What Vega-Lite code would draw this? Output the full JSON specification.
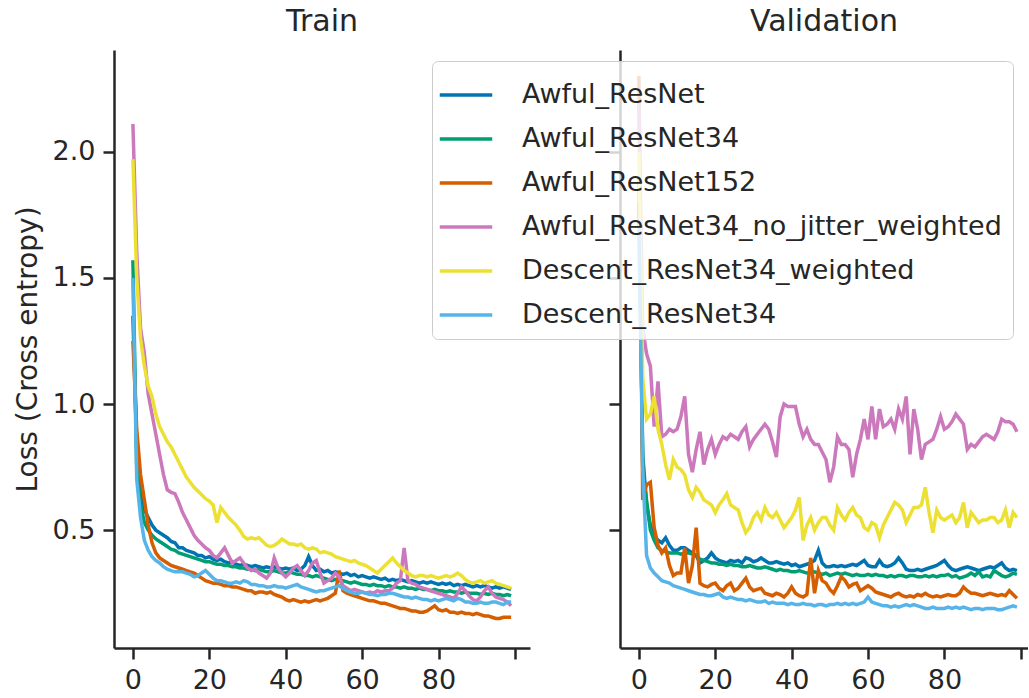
{
"$schema": "https://vega.github.io/schema/vega-lite/v6.json",
"background": "white",
"padding": {"left": 14, "top": 7, "right": 0, "bottom": 0},
"datasets": {
"names": [
{"k":"a","model":"Awful_ResNet"},{"k":"b","model":"Awful_ResNet34"},{"k":"c","model":"Awful_ResNet152"},
{"k":"d","model":"Awful_ResNet34_no_jitter_weighted"},{"k":"e","model":"Descent_ResNet34_weighted"},{"k":"f","model":"Descent_ResNet34"}],
"train": [
{"ep":0,"a":1.35,"b":1.57,"c":1.25,"d":2.11,"e":1.97,"f":1.5},
{"ep":1,"a":0.82,"b":0.75,"c":0.9,"d":1.6,"e":1.5,"f":0.7},
{"ep":2,"a":0.64,"b":0.6,"c":0.72,"d":1.3,"e":1.26,"f":0.55},
{"ep":3,"a":0.58,"b":0.53,"c":0.62,"d":1.2,"e":1.15,"f":0.46},
{"ep":4,"a":0.55,"b":0.5,"c":0.52,"d":1.04,"e":1.07,"f":0.42},
{"ep":5,"a":0.52,"b":0.48,"c":0.45,"d":0.96,"e":1.03,"f":0.395},
{"ep":6,"a":0.5,"b":0.465,"c":0.41,"d":0.88,"e":0.96,"f":0.38},
{"ep":7,"a":0.49,"b":0.455,"c":0.39,"d":0.8,"e":0.91,"f":0.37},
{"ep":8,"a":0.48,"b":0.445,"c":0.38,"d":0.72,"e":0.88,"f":0.355},
{"ep":9,"a":0.47,"b":0.435,"c":0.37,"d":0.66,"e":0.85,"f":0.345},
{"ep":10,"a":0.455,"b":0.425,"c":0.36,"d":0.65,"e":0.83,"f":0.34},
{"ep":11,"a":0.45,"b":0.42,"c":0.355,"d":0.645,"e":0.8,"f":0.335},
{"ep":12,"a":0.43,"b":0.41,"c":0.35,"d":0.61,"e":0.77,"f":0.335},
{"ep":13,"a":0.43,"b":0.405,"c":0.345,"d":0.57,"e":0.74,"f":0.335},
{"ep":14,"a":0.42,"b":0.4,"c":0.34,"d":0.54,"e":0.71,"f":0.33},
{"ep":15,"a":0.415,"b":0.395,"c":0.335,"d":0.51,"e":0.69,"f":0.325},
{"ep":16,"a":0.41,"b":0.39,"c":0.33,"d":0.48,"e":0.67,"f":0.315},
{"ep":17,"a":0.4,"b":0.385,"c":0.32,"d":0.46,"e":0.655,"f":0.32},
{"ep":18,"a":0.4,"b":0.38,"c":0.31,"d":0.445,"e":0.64,"f":0.33},
{"ep":19,"a":0.39,"b":0.375,"c":0.3,"d":0.43,"e":0.625,"f":0.34},
{"ep":20,"a":0.395,"b":0.375,"c":0.295,"d":0.42,"e":0.615,"f":0.325},
{"ep":21,"a":0.385,"b":0.37,"c":0.29,"d":0.4,"e":0.6,"f":0.31},
{"ep":22,"a":0.38,"b":0.365,"c":0.29,"d":0.39,"e":0.53,"f":0.3},
{"ep":23,"a":0.385,"b":0.365,"c":0.285,"d":0.41,"e":0.59,"f":0.3},
{"ep":24,"a":0.375,"b":0.36,"c":0.28,"d":0.43,"e":0.57,"f":0.295},
{"ep":25,"a":0.37,"b":0.36,"c":0.28,"d":0.4,"e":0.55,"f":0.29},
{"ep":26,"a":0.375,"b":0.355,"c":0.275,"d":0.37,"e":0.535,"f":0.29},
{"ep":27,"a":0.365,"b":0.355,"c":0.275,"d":0.38,"e":0.52,"f":0.295},
{"ep":28,"a":0.36,"b":0.35,"c":0.27,"d":0.39,"e":0.5,"f":0.29},
{"ep":29,"a":0.365,"b":0.35,"c":0.265,"d":0.37,"e":0.475,"f":0.3},
{"ep":30,"a":0.36,"b":0.345,"c":0.26,"d":0.35,"e":0.465,"f":0.295},
{"ep":31,"a":0.355,"b":0.345,"c":0.26,"d":0.34,"e":0.47,"f":0.285},
{"ep":32,"a":0.36,"b":0.34,"c":0.25,"d":0.345,"e":0.465,"f":0.285},
{"ep":33,"a":0.355,"b":0.345,"c":0.255,"d":0.33,"e":0.47,"f":0.28},
{"ep":34,"a":0.35,"b":0.34,"c":0.255,"d":0.32,"e":0.455,"f":0.28},
{"ep":35,"a":0.355,"b":0.335,"c":0.25,"d":0.31,"e":0.44,"f":0.275},
{"ep":36,"a":0.35,"b":0.335,"c":0.255,"d":0.33,"e":0.435,"f":0.275},
{"ep":37,"a":0.355,"b":0.34,"c":0.245,"d":0.39,"e":0.44,"f":0.28},
{"ep":38,"a":0.35,"b":0.335,"c":0.24,"d":0.35,"e":0.45,"f":0.275},
{"ep":39,"a":0.345,"b":0.33,"c":0.235,"d":0.33,"e":0.465,"f":0.275},
{"ep":40,"a":0.35,"b":0.33,"c":0.225,"d":0.315,"e":0.455,"f":0.27},
{"ep":41,"a":0.345,"b":0.335,"c":0.22,"d":0.33,"e":0.445,"f":0.275},
{"ep":42,"a":0.35,"b":0.33,"c":0.225,"d":0.35,"e":0.445,"f":0.28},
{"ep":43,"a":0.34,"b":0.325,"c":0.22,"d":0.36,"e":0.44,"f":0.285},
{"ep":44,"a":0.345,"b":0.325,"c":0.215,"d":0.34,"e":0.445,"f":0.275},
{"ep":45,"a":0.36,"b":0.32,"c":0.22,"d":0.32,"e":0.43,"f":0.27},
{"ep":46,"a":0.395,"b":0.32,"c":0.215,"d":0.34,"e":0.425,"f":0.265},
{"ep":47,"a":0.36,"b":0.315,"c":0.22,"d":0.37,"e":0.43,"f":0.26},
{"ep":48,"a":0.34,"b":0.32,"c":0.225,"d":0.38,"e":0.425,"f":0.255},
{"ep":49,"a":0.345,"b":0.315,"c":0.22,"d":0.33,"e":0.41,"f":0.26},
{"ep":50,"a":0.335,"b":0.31,"c":0.225,"d":0.29,"e":0.415,"f":0.26},
{"ep":51,"a":0.34,"b":0.305,"c":0.23,"d":0.3,"e":0.41,"f":0.265},
{"ep":52,"a":0.33,"b":0.3,"c":0.24,"d":0.31,"e":0.405,"f":0.27},
{"ep":53,"a":0.335,"b":0.305,"c":0.25,"d":0.33,"e":0.395,"f":0.275},
{"ep":54,"a":0.33,"b":0.3,"c":0.34,"d":0.315,"e":0.39,"f":0.28},
{"ep":55,"a":0.325,"b":0.3,"c":0.26,"d":0.28,"e":0.385,"f":0.27},
{"ep":56,"a":0.33,"b":0.295,"c":0.25,"d":0.27,"e":0.38,"f":0.26},
{"ep":57,"a":0.32,"b":0.29,"c":0.245,"d":0.26,"e":0.375,"f":0.255},
{"ep":58,"a":0.325,"b":0.295,"c":0.24,"d":0.265,"e":0.38,"f":0.25},
{"ep":59,"a":0.315,"b":0.29,"c":0.235,"d":0.26,"e":0.37,"f":0.25},
{"ep":60,"a":0.32,"b":0.285,"c":0.23,"d":0.255,"e":0.365,"f":0.255},
{"ep":61,"a":0.315,"b":0.285,"c":0.225,"d":0.25,"e":0.36,"f":0.25},
{"ep":62,"a":0.31,"b":0.28,"c":0.22,"d":0.255,"e":0.35,"f":0.245},
{"ep":63,"a":0.315,"b":0.285,"c":0.22,"d":0.25,"e":0.34,"f":0.245},
{"ep":64,"a":0.31,"b":0.28,"c":0.215,"d":0.26,"e":0.33,"f":0.24},
{"ep":65,"a":0.305,"b":0.28,"c":0.21,"d":0.255,"e":0.345,"f":0.245},
{"ep":66,"a":0.31,"b":0.275,"c":0.21,"d":0.26,"e":0.36,"f":0.245},
{"ep":67,"a":0.3,"b":0.28,"c":0.205,"d":0.26,"e":0.375,"f":0.25},
{"ep":68,"a":0.305,"b":0.275,"c":0.2,"d":0.27,"e":0.39,"f":0.25},
{"ep":69,"a":0.3,"b":0.275,"c":0.195,"d":0.29,"e":0.37,"f":0.245},
{"ep":70,"a":0.305,"b":0.27,"c":0.19,"d":0.3,"e":0.355,"f":0.24},
{"ep":71,"a":0.3,"b":0.275,"c":0.19,"d":0.43,"e":0.34,"f":0.235},
{"ep":72,"a":0.295,"b":0.27,"c":0.185,"d":0.3,"e":0.33,"f":0.235},
{"ep":73,"a":0.3,"b":0.27,"c":0.18,"d":0.29,"e":0.32,"f":0.23},
{"ep":74,"a":0.295,"b":0.265,"c":0.18,"d":0.285,"e":0.315,"f":0.235},
{"ep":75,"a":0.29,"b":0.27,"c":0.175,"d":0.275,"e":0.32,"f":0.23},
{"ep":76,"a":0.295,"b":0.265,"c":0.175,"d":0.27,"e":0.32,"f":0.225},
{"ep":77,"a":0.29,"b":0.265,"c":0.18,"d":0.265,"e":0.315,"f":0.225},
{"ep":78,"a":0.295,"b":0.26,"c":0.19,"d":0.26,"e":0.32,"f":0.22},
{"ep":79,"a":0.29,"b":0.265,"c":0.2,"d":0.255,"e":0.315,"f":0.225},
{"ep":80,"a":0.285,"b":0.26,"c":0.185,"d":0.25,"e":0.31,"f":0.22},
{"ep":81,"a":0.29,"b":0.26,"c":0.18,"d":0.245,"e":0.315,"f":0.225},
{"ep":82,"a":0.285,"b":0.255,"c":0.185,"d":0.24,"e":0.32,"f":0.23},
{"ep":83,"a":0.29,"b":0.26,"c":0.175,"d":0.235,"e":0.315,"f":0.225},
{"ep":84,"a":0.28,"b":0.255,"c":0.175,"d":0.23,"e":0.32,"f":0.22},
{"ep":85,"a":0.285,"b":0.255,"c":0.17,"d":0.25,"e":0.33,"f":0.23},
{"ep":86,"a":0.28,"b":0.25,"c":0.175,"d":0.275,"e":0.32,"f":0.225},
{"ep":87,"a":0.285,"b":0.255,"c":0.17,"d":0.26,"e":0.305,"f":0.215},
{"ep":88,"a":0.28,"b":0.25,"c":0.17,"d":0.24,"e":0.295,"f":0.215},
{"ep":89,"a":0.275,"b":0.25,"c":0.165,"d":0.225,"e":0.29,"f":0.21},
{"ep":90,"a":0.28,"b":0.25,"c":0.17,"d":0.22,"e":0.295,"f":0.21},
{"ep":91,"a":0.275,"b":0.245,"c":0.165,"d":0.235,"e":0.3,"f":0.215},
{"ep":92,"a":0.28,"b":0.25,"c":0.16,"d":0.26,"e":0.29,"f":0.21},
{"ep":93,"a":0.275,"b":0.245,"c":0.16,"d":0.275,"e":0.295,"f":0.21},
{"ep":94,"a":0.27,"b":0.25,"c":0.155,"d":0.25,"e":0.3,"f":0.215},
{"ep":95,"a":0.275,"b":0.245,"c":0.15,"d":0.235,"e":0.29,"f":0.215},
{"ep":96,"a":0.27,"b":0.245,"c":0.15,"d":0.23,"e":0.285,"f":0.21},
{"ep":97,"a":0.275,"b":0.24,"c":0.155,"d":0.225,"e":0.28,"f":0.205},
{"ep":98,"a":0.27,"b":0.245,"c":0.155,"d":0.215,"e":0.275,"f":0.215},
{"ep":99,"a":0.265,"b":0.24,"c":0.155,"d":0.2,"e":0.27,"f":0.215}
],
"val": [
{"ep":0,"a":1.8,"b":1.9,"c":2.3,"d":2.2,"e":2.0,"f":1.7},
{"ep":1,"a":0.8,"b":0.75,"c":0.62,"d":1.3,"e":1.1,"f":0.75},
{"ep":2,"a":0.6,"b":0.62,"c":0.68,"d":1.2,"e":0.94,"f":0.4},
{"ep":3,"a":0.52,"b":0.5,"c":0.69,"d":1.15,"e":0.96,"f":0.35},
{"ep":4,"a":0.48,"b":0.46,"c":0.51,"d":0.91,"e":1.03,"f":0.33},
{"ep":5,"a":0.46,"b":0.43,"c":0.44,"d":1.09,"e":0.9,"f":0.315},
{"ep":6,"a":0.45,"b":0.42,"c":0.41,"d":0.87,"e":0.84,"f":0.3},
{"ep":7,"a":0.47,"b":0.415,"c":0.43,"d":0.88,"e":0.76,"f":0.295},
{"ep":8,"a":0.44,"b":0.41,"c":0.36,"d":0.9,"e":0.7,"f":0.29},
{"ep":9,"a":0.42,"b":0.41,"c":0.32,"d":0.89,"e":0.78,"f":0.28},
{"ep":10,"a":0.42,"b":0.41,"c":0.33,"d":0.9,"e":0.75,"f":0.275},
{"ep":11,"a":0.43,"b":0.405,"c":0.33,"d":0.95,"e":0.74,"f":0.27},
{"ep":12,"a":0.43,"b":0.41,"c":0.43,"d":1.03,"e":0.72,"f":0.265},
{"ep":13,"a":0.42,"b":0.41,"c":0.29,"d":0.8,"e":0.66,"f":0.26},
{"ep":14,"a":0.41,"b":0.405,"c":0.36,"d":0.73,"e":0.63,"f":0.255},
{"ep":15,"a":0.4,"b":0.4,"c":0.51,"d":0.82,"e":0.67,"f":0.25},
{"ep":16,"a":0.37,"b":0.385,"c":0.29,"d":0.89,"e":0.65,"f":0.245},
{"ep":17,"a":0.38,"b":0.38,"c":0.28,"d":0.76,"e":0.62,"f":0.245},
{"ep":18,"a":0.39,"b":0.375,"c":0.275,"d":0.82,"e":0.61,"f":0.24},
{"ep":19,"a":0.41,"b":0.37,"c":0.285,"d":0.86,"e":0.6,"f":0.24},
{"ep":20,"a":0.39,"b":0.37,"c":0.29,"d":0.8,"e":0.57,"f":0.245},
{"ep":21,"a":0.38,"b":0.365,"c":0.27,"d":0.84,"e":0.6,"f":0.25},
{"ep":22,"a":0.375,"b":0.365,"c":0.26,"d":0.87,"e":0.62,"f":0.235},
{"ep":23,"a":0.37,"b":0.36,"c":0.28,"d":0.86,"e":0.645,"f":0.23},
{"ep":24,"a":0.38,"b":0.365,"c":0.29,"d":0.88,"e":0.6,"f":0.235},
{"ep":25,"a":0.375,"b":0.36,"c":0.26,"d":0.87,"e":0.59,"f":0.23},
{"ep":26,"a":0.38,"b":0.36,"c":0.27,"d":0.86,"e":0.58,"f":0.225},
{"ep":27,"a":0.37,"b":0.355,"c":0.29,"d":0.89,"e":0.53,"f":0.225},
{"ep":28,"a":0.39,"b":0.355,"c":0.31,"d":0.91,"e":0.49,"f":0.22},
{"ep":29,"a":0.385,"b":0.36,"c":0.275,"d":0.83,"e":0.51,"f":0.225},
{"ep":30,"a":0.375,"b":0.355,"c":0.26,"d":0.86,"e":0.55,"f":0.22},
{"ep":31,"a":0.38,"b":0.35,"c":0.265,"d":0.88,"e":0.57,"f":0.215},
{"ep":32,"a":0.39,"b":0.35,"c":0.27,"d":0.9,"e":0.54,"f":0.215},
{"ep":33,"a":0.38,"b":0.355,"c":0.25,"d":0.92,"e":0.59,"f":0.22},
{"ep":34,"a":0.37,"b":0.35,"c":0.245,"d":0.9,"e":0.56,"f":0.21},
{"ep":35,"a":0.37,"b":0.345,"c":0.24,"d":0.85,"e":0.55,"f":0.215},
{"ep":36,"a":0.375,"b":0.34,"c":0.25,"d":0.79,"e":0.57,"f":0.21},
{"ep":37,"a":0.37,"b":0.345,"c":0.245,"d":0.95,"e":0.54,"f":0.21},
{"ep":38,"a":0.365,"b":0.34,"c":0.235,"d":1.0,"e":0.51,"f":0.21},
{"ep":39,"a":0.37,"b":0.34,"c":0.25,"d":0.99,"e":0.53,"f":0.205},
{"ep":40,"a":0.36,"b":0.335,"c":0.275,"d":0.99,"e":0.55,"f":0.21},
{"ep":41,"a":0.365,"b":0.335,"c":0.25,"d":0.99,"e":0.58,"f":0.205},
{"ep":42,"a":0.355,"b":0.34,"c":0.24,"d":0.92,"e":0.63,"f":0.205},
{"ep":43,"a":0.36,"b":0.335,"c":0.235,"d":0.87,"e":0.46,"f":0.21},
{"ep":44,"a":0.365,"b":0.33,"c":0.245,"d":0.9,"e":0.52,"f":0.205},
{"ep":45,"a":0.37,"b":0.33,"c":0.39,"d":0.86,"e":0.55,"f":0.205},
{"ep":46,"a":0.38,"b":0.335,"c":0.25,"d":0.84,"e":0.5,"f":0.2},
{"ep":47,"a":0.42,"b":0.33,"c":0.34,"d":0.84,"e":0.53,"f":0.205},
{"ep":48,"a":0.37,"b":0.325,"c":0.3,"d":0.81,"e":0.55,"f":0.205},
{"ep":49,"a":0.355,"b":0.33,"c":0.29,"d":0.78,"e":0.55,"f":0.2},
{"ep":50,"a":0.355,"b":0.32,"c":0.265,"d":0.69,"e":0.52,"f":0.205},
{"ep":51,"a":0.36,"b":0.325,"c":0.25,"d":0.75,"e":0.5,"f":0.205},
{"ep":52,"a":0.355,"b":0.33,"c":0.28,"d":0.87,"e":0.59,"f":0.21},
{"ep":53,"a":0.36,"b":0.325,"c":0.315,"d":0.84,"e":0.56,"f":0.205},
{"ep":54,"a":0.355,"b":0.33,"c":0.3,"d":0.84,"e":0.54,"f":0.21},
{"ep":55,"a":0.36,"b":0.325,"c":0.275,"d":0.82,"e":0.57,"f":0.205},
{"ep":56,"a":0.365,"b":0.32,"c":0.285,"d":0.71,"e":0.59,"f":0.21},
{"ep":57,"a":0.36,"b":0.325,"c":0.29,"d":0.8,"e":0.56,"f":0.205},
{"ep":58,"a":0.37,"b":0.32,"c":0.26,"d":0.86,"e":0.55,"f":0.21},
{"ep":59,"a":0.38,"b":0.32,"c":0.27,"d":0.94,"e":0.51,"f":0.215},
{"ep":60,"a":0.36,"b":0.325,"c":0.28,"d":0.86,"e":0.5,"f":0.235},
{"ep":61,"a":0.355,"b":0.32,"c":0.27,"d":0.99,"e":0.53,"f":0.215},
{"ep":62,"a":0.355,"b":0.325,"c":0.255,"d":0.86,"e":0.52,"f":0.21},
{"ep":63,"a":0.38,"b":0.32,"c":0.25,"d":0.98,"e":0.47,"f":0.205},
{"ep":64,"a":0.36,"b":0.32,"c":0.245,"d":0.91,"e":0.52,"f":0.2},
{"ep":65,"a":0.355,"b":0.315,"c":0.24,"d":0.92,"e":0.55,"f":0.2},
{"ep":66,"a":0.36,"b":0.32,"c":0.235,"d":0.94,"e":0.58,"f":0.195},
{"ep":67,"a":0.37,"b":0.315,"c":0.245,"d":0.9,"e":0.61,"f":0.2},
{"ep":68,"a":0.39,"b":0.32,"c":0.25,"d":0.98,"e":0.6,"f":0.195},
{"ep":69,"a":0.37,"b":0.32,"c":0.24,"d":0.94,"e":0.58,"f":0.2},
{"ep":70,"a":0.345,"b":0.315,"c":0.235,"d":1.03,"e":0.53,"f":0.205},
{"ep":71,"a":0.34,"b":0.32,"c":0.24,"d":0.8,"e":0.56,"f":0.2},
{"ep":72,"a":0.34,"b":0.32,"c":0.235,"d":0.98,"e":0.59,"f":0.205},
{"ep":73,"a":0.345,"b":0.315,"c":0.245,"d":0.9,"e":0.59,"f":0.2},
{"ep":74,"a":0.34,"b":0.315,"c":0.24,"d":0.78,"e":0.6,"f":0.195},
{"ep":75,"a":0.345,"b":0.32,"c":0.25,"d":0.84,"e":0.67,"f":0.19},
{"ep":76,"a":0.35,"b":0.315,"c":0.24,"d":0.85,"e":0.57,"f":0.19},
{"ep":77,"a":0.355,"b":0.32,"c":0.235,"d":0.86,"e":0.49,"f":0.195},
{"ep":78,"a":0.36,"b":0.315,"c":0.24,"d":0.9,"e":0.58,"f":0.19},
{"ep":79,"a":0.37,"b":0.32,"c":0.235,"d":0.95,"e":0.55,"f":0.19},
{"ep":80,"a":0.38,"b":0.32,"c":0.24,"d":0.9,"e":0.54,"f":0.19},
{"ep":81,"a":0.36,"b":0.325,"c":0.245,"d":0.91,"e":0.55,"f":0.195},
{"ep":82,"a":0.345,"b":0.315,"c":0.24,"d":0.93,"e":0.56,"f":0.19},
{"ep":83,"a":0.34,"b":0.32,"c":0.24,"d":0.96,"e":0.53,"f":0.195},
{"ep":84,"a":0.345,"b":0.31,"c":0.25,"d":0.94,"e":0.55,"f":0.19},
{"ep":85,"a":0.35,"b":0.315,"c":0.275,"d":0.92,"e":0.61,"f":0.195},
{"ep":86,"a":0.355,"b":0.32,"c":0.26,"d":0.82,"e":0.51,"f":0.19},
{"ep":87,"a":0.35,"b":0.33,"c":0.25,"d":0.84,"e":0.57,"f":0.185},
{"ep":88,"a":0.345,"b":0.32,"c":0.25,"d":0.83,"e":0.55,"f":0.19},
{"ep":89,"a":0.34,"b":0.335,"c":0.245,"d":0.85,"e":0.53,"f":0.19},
{"ep":90,"a":0.345,"b":0.315,"c":0.24,"d":0.87,"e":0.54,"f":0.185},
{"ep":91,"a":0.35,"b":0.32,"c":0.245,"d":0.88,"e":0.54,"f":0.19},
{"ep":92,"a":0.355,"b":0.315,"c":0.25,"d":0.87,"e":0.55,"f":0.19},
{"ep":93,"a":0.35,"b":0.34,"c":0.245,"d":0.86,"e":0.55,"f":0.19},
{"ep":94,"a":0.36,"b":0.33,"c":0.24,"d":0.89,"e":0.53,"f":0.185},
{"ep":95,"a":0.37,"b":0.32,"c":0.245,"d":0.94,"e":0.54,"f":0.185},
{"ep":96,"a":0.35,"b":0.315,"c":0.24,"d":0.93,"e":0.58,"f":0.19},
{"ep":97,"a":0.34,"b":0.32,"c":0.26,"d":0.93,"e":0.51,"f":0.195},
{"ep":98,"a":0.345,"b":0.33,"c":0.245,"d":0.92,"e":0.57,"f":0.2},
{"ep":99,"a":0.34,"b":0.325,"c":0.23,"d":0.89,"e":0.55,"f":0.195}
]
},
"config": {
"view": {"stroke": null},
"font": "DejaVu Sans",
"axis": {"domainColor": "#262626", "domainWidth": 2.5, "tickColor": "#262626", "tickWidth": 2.5, "tickSize": 11, "labelColor": "#262626", "labelFontSize": 27, "labelFont": "DejaVu Sans", "labelPadding": 8, "grid": false, "titleColor": "#262626", "titleFont": "DejaVu Sans", "titleFontWeight": "normal", "titleFontSize": 28},
"title": {"fontSize": 30, "fontWeight": "normal", "color": "#262626", "font": "DejaVu Sans", "offset": 13},
"concat": {"spacing": 77},
"line": {"strokeWidth": 3.5}
},
"resolve": {"scale": {"color": "shared"}, "legend": {"color": "shared"}},
"hconcat": [
{
"title": "Train",
"width": 416, "height": 598,
"data": {"name": "train"},
"transform": [
{"fold": ["a","b","c","d","e","f"], "as": ["k","loss"]},
{"lookup": "k", "from": {"data": {"name": "names"}, "key": "k", "fields": ["model"]}}
],
"mark": {"type": "line", "clip": true},
"encoding": {
"x": {"field": "ep", "type": "quantitative", "scale": {"domain": [-4.95, 103.95], "nice": false, "zero": false}, "axis": {"values": [0,20,40,60,80,100], "labelExpr": "datum.value == 100 ? '' : datum.label", "title": null}},
"y": {"field": "loss", "type": "quantitative", "scale": {"domain": [0.033, 2.403], "nice": false, "zero": false}, "axis": {"values": [0.5,1,1.5,2], "format": ".1f", "title": "Loss (Cross entropy)", "titlePadding": 10}},
"color": {"field": "model", "type": "nominal",
"scale": {"domain": ["Awful_ResNet","Awful_ResNet34","Awful_ResNet152","Awful_ResNet34_no_jitter_weighted","Descent_ResNet34_weighted","Descent_ResNet34"], "range": ["#0173B2","#029E73","#D55E00","#CC78BC","#ECE133","#56B4E9"]},
"legend": {"title": null, "orient": "none", "legendX": 318, "legendY": 11, "symbolType": "M-1.25,0H1.25", "symbolSize": 1764, "symbolStrokeWidth": 3.75, "labelFontSize": 27, "labelColor": "#262626", "labelLimit": 0, "labelOffset": 33, "fillColor": "rgba(255,255,255,0.8)", "strokeColor": "#cccccc", "cornerRadius": 6, "padding": 11, "rowPadding": 8}}
}
},
{
"title": "Validation",
"width": 408, "height": 598,
"data": {"name": "val"},
"transform": [
{"fold": ["a","b","c","d","e","f"], "as": ["k","loss"]},
{"lookup": "k", "from": {"data": {"name": "names"}, "key": "k", "fields": ["model"]}}
],
"mark": {"type": "line", "clip": true},
"encoding": {
"x": {"field": "ep", "type": "quantitative", "scale": {"domain": [-4.95, 101.9], "nice": false, "zero": false}, "axis": {"values": [0,20,40,60,80,100], "labelExpr": "datum.value == 100 ? '' : datum.label", "title": null}},
"y": {"field": "loss", "type": "quantitative", "scale": {"domain": [0.033, 2.403], "nice": false, "zero": false}, "axis": {"values": [0.5,1,1.5,2], "labels": false, "title": null}},
"color": {"field": "model", "type": "nominal"}
}
}
]
}
